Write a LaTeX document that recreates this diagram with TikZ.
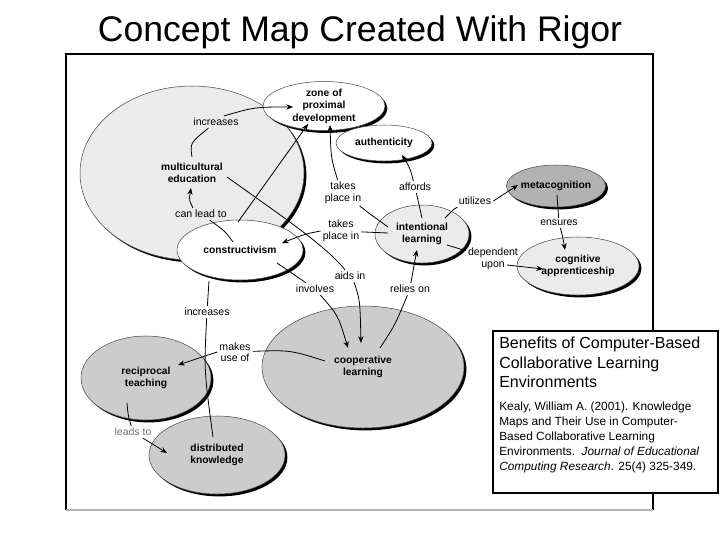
\documentclass[tikz,border=0pt]{standalone}
\usepackage{fontspec}
\setmainfont{Liberation Sans}
\usetikzlibrary{shapes.geometric,shadows,arrows.meta}
\definecolor{lg}{gray}{0.92}
\definecolor{mg}{gray}{0.80}
\definecolor{dg}{gray}{0.70}
\begin{document}
\begin{tikzpicture}[x=0.75pt,y=-0.75pt,
  ell/.style={ellipse, draw=black!70, line width=0.4pt, inner sep=0pt, align=center,
    font=\fontsize{7.7}{9.4}\selectfont\bfseries,
    drop shadow={shadow xshift=1.8pt, shadow yshift=-1.8pt, fill=black, opacity=1}},
  lbl/.style={font=\fontsize{7.9}{8.6}\selectfont, align=center, inner sep=1.5pt},
  con/.style={line width=0.6pt, black},
  arr/.style={con, -{Stealth[length=5pt,width=4pt]}}]
\useasboundingbox (0,0) rectangle (720,540);
\node[font=\fontsize{26.7}{30}\selectfont, anchor=base] (title) at (360,41) {Concept Map Created With Rigor};
% frame
\draw[black, line width=0.8pt] (66,510) -- (66,54) -- (653,54) -- (653,510);
\draw[black!30, line width=0.8pt] (66,510) -- (653,510);
% concepts
\node[ell, fill=lg, minimum width=168pt, minimum height=130.5pt] (multi) at (192,173) {multicultural\\education};
\node[ell, fill=white, minimum width=91.5pt, minimum height=36pt] (zone) at (324,106) {zone of\\proximal\\development};
\node[ell, fill=white, minimum width=72pt, minimum height=27pt] (auth) at (384,143) {authenticity};
\node[ell, fill=white, minimum width=94.5pt, minimum height=45pt] (constr) at (240,250) {constructivism};
\node[ell, fill=dg, minimum width=70.5pt, minimum height=31.5pt] (meta) at (556,186) {metacognition};
\node[ell, fill=lg, minimum width=70.5pt, minimum height=43.5pt] (intent) at (422,234) {intentional\\learning};
\node[ell, fill=lg, minimum width=91.5pt, minimum height=43.5pt] (cogapp) at (578,266) {cognitive\\apprenticeship};
\node[ell, fill=mg, minimum width=151.5pt, minimum height=91.5pt] (coop) at (363,367) {cooperative\\learning};
\node[ell, fill=mg, minimum width=97.5pt, minimum height=63pt] (recip) at (146,378) {reciprocal\\teaching};
\node[ell, fill=mg, minimum width=102pt, minimum height=58.5pt] (distr) at (217,455) {distributed\\knowledge};
% link labels
\node[lbl] (inc1) at (216,122) {increases};
\node[lbl] (canlead) at (201,214) {can lead to};
\node[lbl] (tp1) at (343,193) {takes\\place in};
\node[lbl] (tp2) at (341,231) {takes\\place in};
\node[lbl] (aids) at (350,276) {aids in};
\node[lbl] (involves) at (315,289) {involves};
\node[lbl] (relies) at (410,289) {relies on};
\node[lbl] (affords) at (415,187) {affords};
\node[lbl] (utilizes) at (475,201) {utilizes};
\node[lbl] (dep) at (493,259) {dependent\\upon};
\node[lbl] (ensures) at (559,223) {ensures};
\node[lbl] (inc2) at (207,312) {increases};
\node[lbl] (makes) at (235,352) {makes\\use of};
\node[lbl, text=black!55] (leads) at (133,432) {leads to};
% connector end points
\coordinate (m1) at (192,157);
\coordinate (m2) at (227,177);
\coordinate (c1) at (233,242);
\coordinate (c2) at (238,222);
\coordinate (c3) at (277,263);
\coordinate (c4) at (209,281);
\coordinate (i1) at (388,227);
\coordinate (i2) at (388,233);
\coordinate (i3) at (422,218);
\coordinate (i4) at (445,218);
\coordinate (i5) at (447,245);
\coordinate (co1) at (380,348);
\coordinate (co2) at (325,361);
\coordinate (mt1) at (557,195);
\coordinate (r1) at (127,403);
\coordinate (d2) at (507,265);
\coordinate (zt1) at (293,107);
\coordinate (zt2) at (308,124);
\coordinate (zt3) at (330,125);
\coordinate (mt) at (191,188);
\coordinate (at) at (402,155);
\coordinate (ct) at (282,243);
\coordinate (cp1) at (361,343);
\coordinate (cp2) at (348,348);
\coordinate (it) at (417,250);
\coordinate (mtt) at (518,185);
\coordinate (cat1) at (543,269);
\coordinate (cat2) at (565,250);
\coordinate (rt) at (178,365);
\coordinate (dt1) at (213,437);
\coordinate (dt2) at (167,453);
% connectors
\draw[con] (m1) .. controls (190,143) .. (inc1);
\draw[arr] ([xshift=6pt]inc1.north) .. controls (255,107) .. (zt1);
\draw[con] (c1) .. controls (225,231) .. (canlead);
\draw[arr] ([xshift=-6pt]canlead.north) .. controls (189,200) .. (mt);
\draw[arr] (c2) -- (zt2);
\draw[con] (m2) .. controls (280,215) and (325,245) .. (aids);
\draw[arr] ([xshift=3pt]aids.south) .. controls (360,300) .. (cp1);
\draw[con] (c3) -- (involves);
\draw[arr] ([xshift=4pt]involves.south) .. controls (338,315) .. (cp2);
\draw[con] (i1) .. controls (370,214) .. (tp1);
\draw[arr] ([xshift=-4pt]tp1.north) .. controls (331,158) .. (zt3);
\draw[con] (i2) -- (tp2);
\draw[arr] (tp2.west) .. controls (305,234) .. (ct);
\draw[con] (i3) -- (affords);
\draw[arr] (affords) .. controls (410,168) .. (at);
\draw[con] (i4) .. controls (455,208) .. (utilizes);
\draw[arr] (utilizes.east) -- (mtt);
\draw[con] (i5) -- (dep);
\draw[arr] (d2) -- (cat1);
\draw[con] (co1) .. controls (395,325) .. (relies);
\draw[arr] (relies) .. controls (413,268) .. (it);
\draw[con] (mt1) -- (ensures);
\draw[arr] (ensures) .. controls (563,238) .. (cat2);
\draw[con] (co2) .. controls (290,350) .. (makes);
\draw[arr] (makes.west) -- (rt);
\draw[con] (c4) -- (inc2);
\draw[con] (inc2) .. controls (204,370) .. (dt1);
\draw[con] (r1) .. controls (128,415) .. (leads);
\draw[arr] (leads) -- (dt2);
% reference box
\node[draw=black, line width=1.5pt, fill=white, minimum width=168.75pt, minimum height=121.5pt, anchor=north west, inner sep=0pt] (box) at (492,330) {};
\node[anchor=north west, inner sep=0pt, align=left, font=\fontsize{12}{14.6}\selectfont] (btitle) at (499,337) {Benefits of Computer-Based\\Collaborative Learning\\Environments};
\node[anchor=north west, inner sep=0pt, align=left, font=\fontsize{8.9}{11.25}\selectfont] (cite) at (499,402) {Kealy, William A. (2001). Knowledge\\Maps and Their Use in Computer-\\Based Collaborative Learning\\Environments.\ \ \textit{Journal of Educational}\\\textit{Computing Research}. 25(4) 325-349.};
\end{tikzpicture}
\end{document}
